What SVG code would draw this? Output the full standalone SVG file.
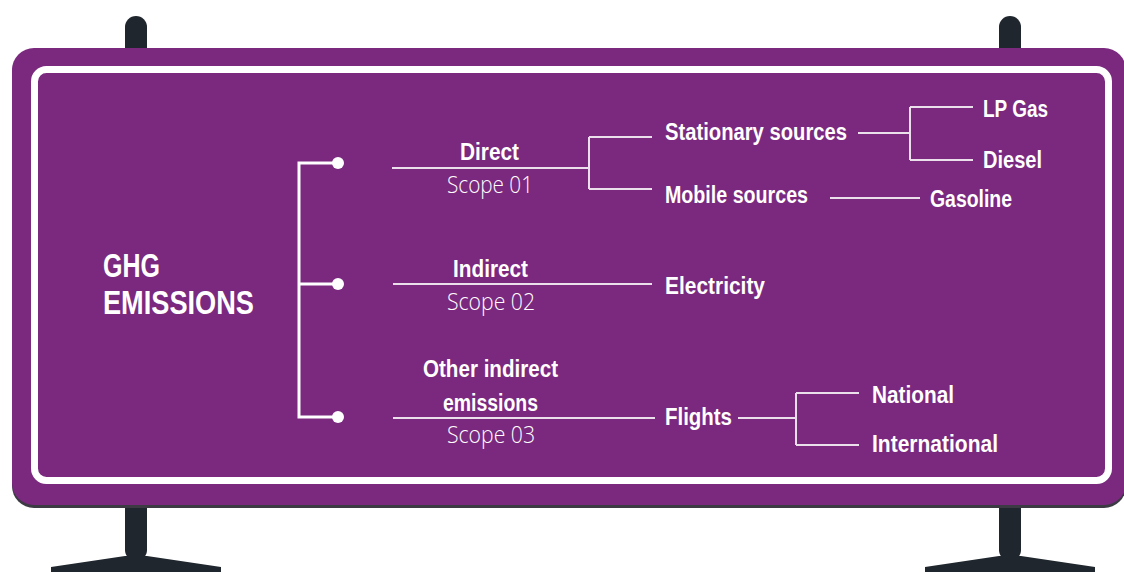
<svg xmlns="http://www.w3.org/2000/svg" width="1124" height="572" viewBox="0 0 1124 572">
  <defs>
    <style>
      .pole { fill: #1f262d; }
      .lbl { font-family: "Liberation Sans", Arial, sans-serif; font-weight: bold; font-size: 23px; fill: #ffffff; }
      .scope { font-family: "Open Sans", "Liberation Sans", sans-serif; font-weight: 300; font-size: 24px; fill: #ffffff; }
      .title { font-family: "Liberation Sans", Arial, sans-serif; font-weight: bold; font-size: 33px; fill: #ffffff; }
      .wire { fill: none; stroke: #ffffff; stroke-opacity: 0.85; stroke-width: 2; }
      .trunk { fill: none; stroke: #ffffff; stroke-width: 3; }
    </style>
  </defs>

  <!-- sign posts and feet -->
  <g id="posts">
    <rect class="pole" x="125" y="16" width="22" height="545" rx="11"/>
    <rect class="pole" x="999" y="16" width="22" height="545" rx="11"/>
    <polygon class="pole" points="51,567 125,556 147,556 221,567 221,572 51,572"/>
    <polygon class="pole" points="925,567 999,556 1021,556 1095,567 1095,572 925,572"/>
  </g>

  <!-- sign board -->
  <g id="board">
    <rect x="12" y="51" width="1114" height="457" rx="22" fill="#3c3b44"/>
    <rect x="12" y="48" width="1114" height="457" rx="22" fill="#7a297f"/>
    <rect x="34.5" y="69.5" width="1074" height="411" rx="12" fill="none" stroke="#ffffff" stroke-width="7"/>
  </g>

  <!-- connectors -->
  <g id="connectors">
    <path class="trunk" d="M338,163 H299 V417 H338 M299,284 H338"/>
    <circle cx="338" cy="163" r="6" fill="#ffffff"/>
    <circle cx="338" cy="284" r="6" fill="#ffffff"/>
    <circle cx="338" cy="417" r="6" fill="#ffffff"/>

    <path class="wire" d="M392,168 H589 M589,137 V189 M589,137 H652 M589,189 H652"/>
    <path class="wire" d="M858,133 H910 M910,107 V160 M910,107 H973 M910,160 H973"/>
    <path class="wire" d="M830,198 H920"/>
    <path class="wire" d="M393,284 H652"/>
    <path class="wire" d="M393,418 H655 M738,418 H796 M796,393 V445 M796,393 H859 M796,445 H859"/>
  </g>

  <g id="ghg">
    <text class="title" x="103" y="277" textLength="57" lengthAdjust="spacingAndGlyphs">GHG</text>
    <text class="title" x="103" y="314" textLength="151" lengthAdjust="spacingAndGlyphs">EMISSIONS</text>
  </g>

  <g id="scope1">
    <text class="lbl" x="460" y="160" textLength="59" lengthAdjust="spacingAndGlyphs">Direct</text>
    <text class="scope" x="447" y="193" textLength="86" lengthAdjust="spacingAndGlyphs">Scope 01</text>
  </g>
  <g id="stationary">
    <text class="lbl" x="665" y="140" textLength="182" lengthAdjust="spacingAndGlyphs">Stationary sources</text>
  </g>
  <g id="mobile">
    <text class="lbl" x="665" y="203" textLength="143" lengthAdjust="spacingAndGlyphs">Mobile sources</text>
  </g>
  <g id="lpgas">
    <text class="lbl" x="983" y="117" textLength="65" lengthAdjust="spacingAndGlyphs">LP Gas</text>
  </g>
  <g id="diesel">
    <text class="lbl" x="983" y="168" textLength="59" lengthAdjust="spacingAndGlyphs">Diesel</text>
  </g>
  <g id="gasoline">
    <text class="lbl" x="930" y="207" textLength="82" lengthAdjust="spacingAndGlyphs">Gasoline</text>
  </g>

  <g id="scope2">
    <text class="lbl" x="453" y="277" textLength="75" lengthAdjust="spacingAndGlyphs">Indirect</text>
    <text class="scope" x="447" y="310" textLength="88" lengthAdjust="spacingAndGlyphs">Scope 02</text>
  </g>
  <g id="electricity">
    <text class="lbl" x="665" y="294" textLength="100" lengthAdjust="spacingAndGlyphs">Electricity</text>
  </g>

  <g id="scope3">
    <text class="lbl" x="423" y="377" textLength="135" lengthAdjust="spacingAndGlyphs">Other indirect</text>
    <text class="lbl" x="443" y="411" textLength="95" lengthAdjust="spacingAndGlyphs">emissions</text>
    <text class="scope" x="447" y="443" textLength="88" lengthAdjust="spacingAndGlyphs">Scope 03</text>
  </g>
  <g id="flights">
    <text class="lbl" x="665" y="425" textLength="67" lengthAdjust="spacingAndGlyphs">Flights</text>
  </g>
  <g id="national">
    <text class="lbl" x="872" y="403" textLength="82" lengthAdjust="spacingAndGlyphs">National</text>
  </g>
  <g id="international">
    <text class="lbl" x="872" y="452" textLength="126" lengthAdjust="spacingAndGlyphs">International</text>
  </g>
</svg>
